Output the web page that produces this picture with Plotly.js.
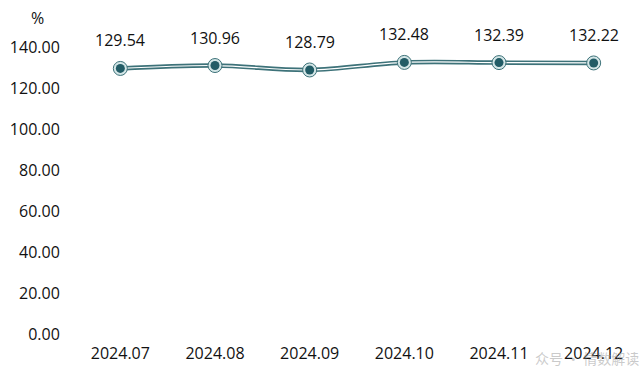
<!DOCTYPE html>
<html><head><meta charset="utf-8">
<script src="https://cdn.plot.ly/plotly-3.0.1.min.js"></script>
<style>body{margin:0;background:#fff}#c{width:641px;height:380px}</style>
</head><body><div id="c"></div>
<script>
const months = ['2024.07','2024.08','2024.09','2024.10','2024.11','2024.12'];
const values = [129.54,130.96,128.79,132.48,132.39,132.22];
const yTicks = [0,20,40,60,80,100,120,140];

const fam = '"Open Sans","Noto Sans",sans-serif';
const font = {family:fam, size:16, color:'#111'};
const traces = [
  {x:months, y:values, type:'scatter', mode:'lines', line:{shape:'spline', color:'#3d7279', width:4.5}, hoverinfo:'skip', cliponaxis:false},
  {x:months, y:values, type:'scatter', mode:'lines', line:{shape:'spline', color:'#ffffff', width:1.2}, hoverinfo:'skip', cliponaxis:false},
  {x:months, y:values, type:'scatter', mode:'markers', marker:{size:14, color:'#d4e6e7', line:{color:'#3d7279', width:1}}, cliponaxis:false},
  {x:months, y:values, type:'scatter', mode:'markers', marker:{size:9, color:'#225c66', line:{width:0}}, cliponaxis:false}
];
const annotations = values.map((v,i)=>({x:i, y:v, text:v.toFixed(2), showarrow:false, yshift:28, yanchor:'middle', xanchor:'center', font:{family:fam, size:16, color:'#111'}, xref:'x', yref:'y'}));
annotations.push({xref:'paper', yref:'paper', x:-0.062, y:1.101, text:'%', showarrow:false, font:{family:fam, size:16, color:'#111'}, xanchor:'center', yanchor:'middle'});
annotations.push({xref:'paper', yref:'paper', x:1.0, y:-0.085, text:'众号 · 情数解读', showarrow:false, font:{family:'"Noto Sans CJK SC",sans-serif', size:14, color:'rgba(150,150,150,0.5)'}, xanchor:'right', yanchor:'middle'});
const layout = {
  width:641, height:380, margin:{l:73, r:0, t:47, b:46},
  paper_bgcolor:'#fff', plot_bgcolor:'#fff', showlegend:false, font:font,
  xaxis:{type:'category', range:[-0.5,5.5], showgrid:false, zeroline:false, showline:false, ticks:'outside', ticklen:5, tickcolor:'rgba(0,0,0,0)', tickfont:{family:fam, size:16, color:'#111'}, fixedrange:true},
  yaxis:{range:[0,140], tickvals:yTicks, ticktext:yTicks.map(t=>t.toFixed(2)), showgrid:false, zeroline:false, showline:false, ticks:'outside', ticklen:9, tickcolor:'rgba(0,0,0,0)', tickfont:{family:fam, size:16, color:'#111'}, fixedrange:true},
  annotations:annotations
};
Plotly.newPlot('c', traces, layout, {displayModeBar:false, staticPlot:true});
</script></body></html>
